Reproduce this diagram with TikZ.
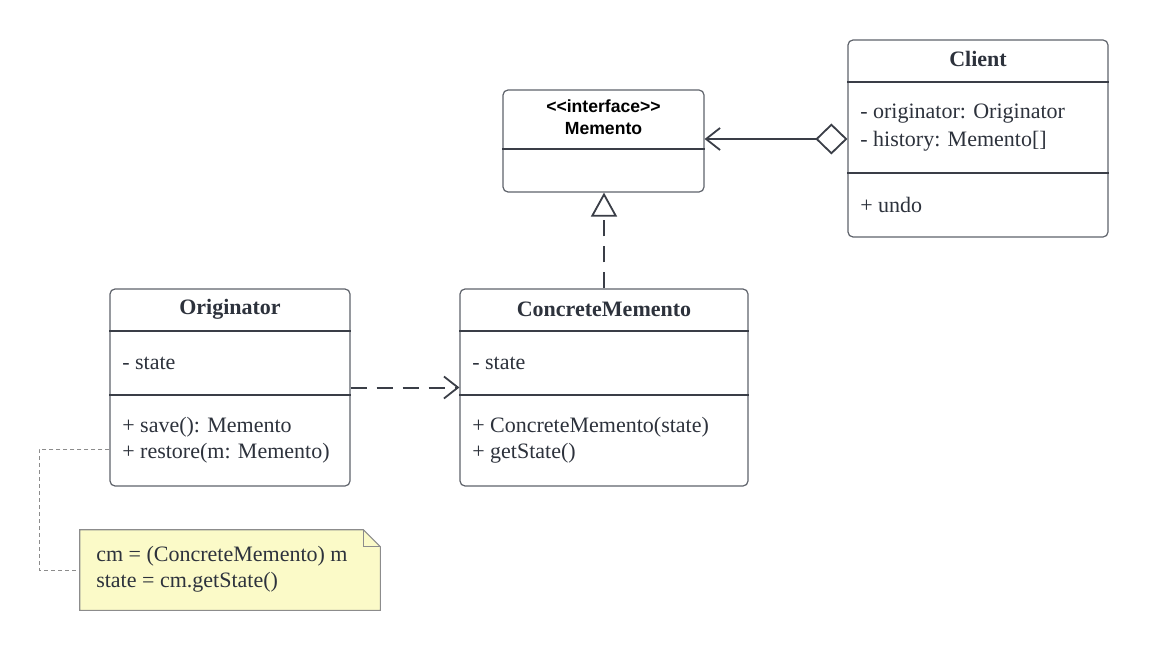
\documentclass[tikz,border=0pt]{standalone}
\usepackage{fontspec}
\setmainfont{Liberation Serif}
\newfontfamily\headfont{Liberation Sans}
\usepackage{tikz}
\usetikzlibrary{arrows.meta}
\definecolor{umlline}{RGB}{58,62,71}
\definecolor{umlbox}{RGB}{95,99,107}
\definecolor{umltext}{RGB}{45,50,60}
\definecolor{notefill}{RGB}{251,250,200}
\definecolor{notedraw}{RGB}{140,140,140}

\begin{document}
\begin{tikzpicture}[x=1pt,y=-1pt,semithick,
    every node/.style={text=umltext,font=\fontsize{22}{26}\selectfont},
    classbox/.style={draw=umlbox,line width=1.2pt,rounded corners=5pt,fill=white,inner sep=0pt},
    title/.style={font=\fontsize{22}{26}\selectfont\bfseries},
    member/.style={anchor=west,inner sep=0pt},
    divider/.style={draw=umlline,line width=1.1pt},
    link/.style={draw=umlline,line width=2pt},
    dashlink/.style={link,dash pattern=on 16pt off 10pt},
    notelink/.style={draw=notedraw,line width=0.9pt,dash pattern=on 4pt off 3pt}]
  \useasboundingbox (0,0) rectangle (1149,650);

  % Memento interface
  \node[classbox,minimum width=201,minimum height=102] (M) at (603.5,141) {};
  \node[text=black,font=\headfont\bfseries\fontsize{17.6}{22}\selectfont,align=center] (Mt) at (603.5,117.5)
    {<<interface>>\\Memento};
  \draw[divider] (M.west |- 0,149) -- (M.east |- 0,149);

  % Client
  \node[classbox,minimum width=260,minimum height=197] (Cl) at (978,138.5) {};
  \node[title] (Clt) at (978,59) {Client};
  \draw[divider] (Cl.west |- 0,82) -- (Cl.east |- 0,82);
  \node[member] (Cla1) at (860,114) {- originator: Originator};
  \node[member] (Cla2) at (860,141) {- history: Memento[]};
  \draw[divider] (Cl.west |- 0,173) -- (Cl.east |- 0,173);
  \node[member] (Clo1) at (860,205) {+ undo};

  % Originator
  \node[classbox,minimum width=240,minimum height=197] (O) at (230,387.5) {};
  \node[title] (Ot) at (230,309) {Originator};
  \draw[divider] (O.west |- 0,331) -- (O.east |- 0,331);
  \node[member] (Oa1) at (122,363) {- state};
  \draw[divider] (O.west |- 0,395) -- (O.east |- 0,395);
  \node[member] (Oo1) at (122,427) {+ save(): Memento};
  \node[member] (Oo2) at (122,453) {+ restore(m: Memento)};

  % ConcreteMemento
  \node[classbox,minimum width=288,minimum height=197] (C) at (604,387.5) {};
  \node[title] (Ct) at (604,309) {ConcreteMemento};
  \draw[divider] (C.west |- 0,331) -- (C.east |- 0,331);
  \node[member] (Ca1) at (472,363) {- state};
  \draw[divider] (C.west |- 0,395) -- (C.east |- 0,395);
  \node[member] (Co1) at (472,427) {+ ConcreteMemento(state)};
  \node[member] (Co2) at (472,453) {+ getState()};

  % note
  \node[minimum width=300,minimum height=80,inner sep=0pt] (N) at (230,570) {};
  \filldraw[fill=notefill,draw=notedraw,line width=1.1pt] (N.south west) -- (N.north west)
    -- ([xshift=-17pt]N.north east) -- ([yshift=-17pt]N.north east) -- (N.south east) -- cycle;
  \draw[draw=notedraw,line width=1.1pt] ([xshift=-17pt]N.north east) |- ([yshift=-17pt]N.north east);
  \node[member,align=left] (Nt) at (96,569) {cm = (ConcreteMemento) m\\state = cm.getState()};

  % relations
  \draw[link,{Diamond[open,fill=white,length=32pt,width=31pt,line width=1.8pt]}-{Straight Barb[length=14pt,width=22pt,line width=1.8pt]}]
    (Cl.west |- 0,139) -- (M.east |- 0,139);
  \draw[dashlink,-{Triangle[open,fill=white,length=24pt,width=26pt,line width=1.8pt]}]
    (C.north) -- (C.north |- M.south);
  \draw[dashlink,-{Straight Barb[length=14pt,width=22pt,line width=1.8pt]}] (O.east) -- (C.west);
  \draw[notelink] (O.west |- 0,449) -- ++(-70,0) |- (N.west);
\end{tikzpicture}
\end{document}
